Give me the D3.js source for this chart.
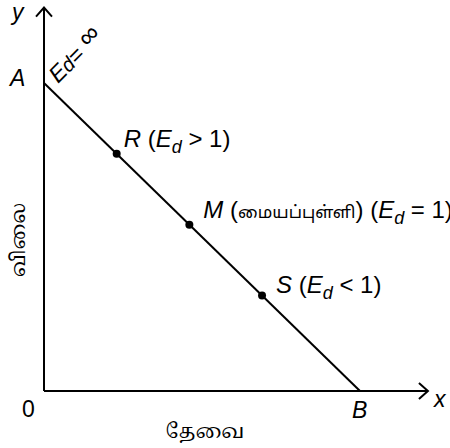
<!DOCTYPE html>
<html>
<head>
<meta charset="utf-8">
<script src="https://cdn.jsdelivr.net/npm/d3@7"></script>
<style>
  body { margin: 0; background: #fff; overflow: hidden; }
  svg text { font-family: "Liberation Sans", Arial, sans-serif; fill: #000; }
  svg .ta { font-family: "Noto Sans Tamil", "Noto Serif Tamil", "Lohit Tamil", "FreeSerif", "Noto Sans", sans-serif; }
  svg .tas { font-family: "Noto Serif Tamil", "Noto Sans Tamil", "Lohit Tamil", serif; }
</style>
</head>
<body>
<svg width="450" height="448"></svg>
<script>
// Demand line from A (on y axis) to B (on x axis)
const demandLine = [[0, 10], [10, 0]];
const pointNames = ['R', 'M', 'S'];
const pointX = [2.3, 4.6, 6.9];
const pointY = [7.7, 5.4, 3.1];
const pointTamil = ['', 'மையப்புள்ளி', ''];
const pointRel = ['>', '=', '<'];
const xMax = 12.15;
const yMax = 12.45;

function draw() {
    const svg = d3.select('svg');
    const origin = { x: 44, y: 391 };

    const xScale = d3.scaleLinear()
        .domain([0, 10])
        .range([origin.x, 360]);
    const yScale = d3.scaleLinear()
        .domain([0, 10])
        .range([origin.y, 83]);

    // Axes
    const ax = svg.append('g')
        .attr('fill', 'none')
        .attr('stroke', 'black')
        .attr('stroke-width', 2);
    ax.append('line')
        .attr('x1', xScale(0)).attr('y1', yScale(0))
        .attr('x2', xScale(0)).attr('y2', yScale(yMax));
    ax.append('line')
        .attr('x1', xScale(0)).attr('y1', yScale(0))
        .attr('x2', xScale(xMax)).attr('y2', yScale(0));
    // arrow heads (open chevrons)
    const ty = yScale(yMax);
    ax.append('path')
        .attr('d', `M${xScale(0) - 8},${ty + 9} L${xScale(0)},${ty} L${xScale(0) + 8},${ty + 9}`);
    const tx = xScale(xMax);
    ax.append('path')
        .attr('d', `M${tx - 9},${yScale(0) - 8} L${tx},${yScale(0)} L${tx - 9},${yScale(0) + 8}`);

    // Demand line
    svg.append('path')
        .datum(demandLine)
        .attr('d', d3.line().x(d => xScale(d[0])).y(d => yScale(d[1])))
        .attr('stroke', 'black')
        .attr('stroke-width', 2)
        .attr('fill', 'none');

    // Points
    const pts = pointNames.map((n, i) => ({ name: n, x: pointX[i], y: pointY[i], ta: pointTamil[i], rel: pointRel[i] }));
    svg.selectAll('circle.pt')
        .data(pts)
        .join('circle')
        .attr('class', 'pt')
        .attr('cx', d => xScale(d.x))
        .attr('cy', d => yScale(d.y))
        .attr('r', 4)
        .attr('fill', 'black');

    // Point labels
    const labelDx = [7, 14, 14];
    const labelDy = [-7, -7, -3];
    pts.forEach((d, i) => {
        const t = svg.append('text')
            .attr('x', xScale(d.x) + labelDx[i])
            .attr('y', yScale(d.y) + labelDy[i])
            .style('font-size', '24px');
        t.append('tspan').text(d.name).style('font-style', 'italic');
        if (d.ta) {
            t.append('tspan').text(' (');
            t.append('tspan').attr('class', 'ta').text(d.ta).style('font-size', '17px');
            t.append('tspan').text(') (');
        } else {
            t.append('tspan').text(' (');
        }
        t.append('tspan').text('E').style('font-style', 'italic');
        t.append('tspan').text('d').style('font-style', 'italic')
            .style('font-size', '18px').attr('dy', 6);
        t.append('tspan').text(` ${d.rel} 1)`).attr('dy', -6);
    });

    // Axis letters
    svg.append('text').text('y').attr('x', 12).attr('y', 20)
        .style('font-size', '23px').style('font-style', 'italic');
    svg.append('text').text('x').attr('x', 434).attr('y', 407)
        .style('font-size', '23px').style('font-style', 'italic');
    svg.append('text').text('0').attr('x', 22).attr('y', 417)
        .style('font-size', '23px');
    svg.append('text').text('A').attr('x', 10).attr('y', yScale(10) + 3)
        .style('font-size', '23px').style('font-style', 'italic');
    svg.append('text').text('B').attr('x', xScale(10) - 8).attr('y', 418)
        .style('font-size', '23px').style('font-style', 'italic');

    // Ed = infinity along y axis
    const ed = svg.append('text')
        .attr('transform', `translate(${xScale(0) + 14},${yScale(10) + 1}) rotate(-45)`)
        .style('font-size', '23px');
    ed.append('tspan').text('E').style('font-style', 'italic');
    ed.append('tspan').text('d').style('font-style', 'italic').style('font-size', '20px');
    ed.append('tspan').text('= ');
    ed.append('tspan').text('∞').attr('dy', -4).style('font-size', '27px');

    // Axis titles
    svg.append('text').text('தேவை')
        .attr('class', 'tas')
        .attr('x', 205).attr('y', 438)
        .style('text-anchor', 'middle')
        .style('font-size', '20px');
    svg.append('text').text('விலை')
        .attr('class', 'tas')
        .attr('transform', `translate(25, 240) rotate(-90)`)
        .style('text-anchor', 'middle')
        .style('font-size', '20px');
}

draw();
</script>
</body>
</html>
